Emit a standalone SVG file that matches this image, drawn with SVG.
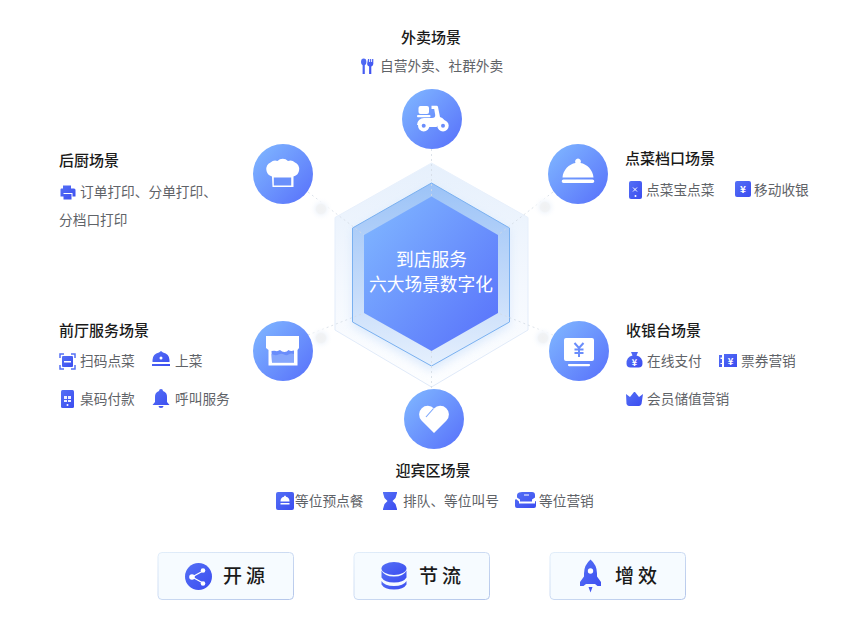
<svg xmlns="http://www.w3.org/2000/svg" width="860" height="628" viewBox="0 0 860 628">
<style>
text{font-family:"Noto Sans CJK SC","Noto Sans",sans-serif}
.t{font-size:15px;font-weight:500;fill:#1a1a1a}
.i{font-size:13.7px;fill:#5f6368}
.b{font-size:19px;font-weight:500;fill:#1a1a1a;letter-spacing:4px}
.c{font-size:17.700px;fill:#fff;text-anchor:middle}
.w{fill:#fff}
.k{fill:url(#ic)}
.btn{fill:#f6fbff;stroke:url(#bs);stroke-width:1}
.conn{stroke:#d3dae3;stroke-width:.8;stroke-dasharray:2 3;fill:none}
</style>
<defs>
<linearGradient id="g" x1="0.1" y1="0.1" x2="0.95" y2="0.9"><stop offset="0" stop-color="#7db2ff"/><stop offset="1" stop-color="#5a75fb"/></linearGradient>
<linearGradient id="ic" x1="0" y1="0" x2="1" y2="1"><stop offset="0" stop-color="#5470f5"/><stop offset="1" stop-color="#3b4cf0"/></linearGradient>
<linearGradient id="bs" x1="0" y1="0" x2="1" y2="1"><stop offset="0" stop-color="#e2eefa"/><stop offset="1" stop-color="#b4c6ea"/></linearGradient>
<linearGradient id="h1" x1="0.5" y1="0" x2="0.5" y2="1"><stop offset="0" stop-color="#e6f0fc"/><stop offset=".55" stop-color="#f4f8fe"/><stop offset="1" stop-color="#fdfeff"/></linearGradient>
<linearGradient id="h1s" x1="0.5" y1="0" x2="0.5" y2="1"><stop offset="0" stop-color="#e9f1fc"/><stop offset="1" stop-color="#dfe9f8"/></linearGradient>
<linearGradient id="h2" x1="0.5" y1="0" x2="0.5" y2="1"><stop offset="0" stop-color="#9cc3f7"/><stop offset=".6" stop-color="#c6dcfa"/><stop offset="1" stop-color="#e6f0fd"/></linearGradient>
<radialGradient id="dot"><stop offset="0" stop-color="#f0f1f2"/><stop offset=".38" stop-color="#f1f3f5"/><stop offset=".5" stop-color="#f6f9fd"/><stop offset="1" stop-color="#fff" stop-opacity="0"/></radialGradient>
<filter id="blur" x="-20%" y="-20%" width="140%" height="140%"><feGaussianBlur stdDeviation="5"/></filter>
</defs>

<g id="hexagon">
<polygon points="431.500,163 528,217.500 528,330 431.500,387 335,330 335,217.500" fill="url(#h1)" stroke="url(#h1s)" stroke-width="1"/>
<polygon points="431.500,186 509.500,231 509.500,326 431.500,371 352.500,326 352.500,231" fill="#cfe2fb" opacity=".7" filter="url(#blur)"/>
<polygon points="431.500,183 509.500,228 509.500,322 431.500,366 352.500,322 352.500,228" fill="url(#h2)" stroke="#79b0f0" stroke-width="1"/>
</g>

<g id="connectors">
<path class="conn" d="M431.500 149V197M431.500 351V389M308 192L364 235M553 192L498 235M308 335L364 313M553 335L498 313"/>
<circle cx="321" cy="209" r="12" fill="url(#dot)"/>
<circle cx="545" cy="207" r="12" fill="url(#dot)"/>
<circle cx="321" cy="338" r="12" fill="url(#dot)"/>
<circle cx="543" cy="338" r="12" fill="url(#dot)"/>
</g>

<g id="center">
<polygon points="431.500,196.500 498,235 498,313 431.500,351 364,313 364,235" fill="url(#g)"/>
<text class="c" x="431.500" y="266">到店服务</text>
<text class="c" x="431" y="291">六大场景数字化</text>
</g>

<g id="node-waimai">
<text class="t" x="431" y="43" text-anchor="middle">外卖场景</text>
<path class="k" d="M361 62a2.700 3.500 0 0 1 5.400 0a2.700 3.500 0 0 1-1.600 3.300V74h-2.200v-8.700a2.700 3.500 0 0 1-1.600-3.300zM368 59h1.200v3h.9v-3h1.100v3h.9v-3h1.200v5a2.500 2.500 0 0 1-2 2.400V74h-2.200v-7.600a2.500 2.500 0 0 1-2-2.400z"/>
<text class="i" x="380" y="71">自营外卖、社群外卖</text>
<circle cx="432" cy="119" r="30" fill="url(#g)"/>
<rect class="w" x="418.500" y="106" width="10.500" height="8" rx="2"/>
<rect class="w" x="417" y="115" width="13.500" height="2.300" rx="1"/>
<path class="w" d="M417 125a7 7 0 0 1 7-7h8q3.500 0 3.200-3l-1-6h-2.700v-3.300h5a1.500 1.500 0 0 1 1.500 1.300l2 10q5 1.500 6.500 8h-8l-2 2h-8l-2-2z"/>
<circle cx="423.700" cy="125.700" r="5.700" class="w"/><circle cx="423.700" cy="125.700" r="2" fill="#6a8dfb"/>
<circle cx="443" cy="125.700" r="5.700" class="w"/><circle cx="443" cy="125.700" r="2" fill="#6a8dfb"/>
</g>

<g id="node-houchu">
<text class="t" x="59" y="166">后厨场景</text>
<path class="k" d="M63 186h8v3h3a1.500 1.500 0 0 1 1.500 1.500V197h-3v-3.500h-9V197h-3v-6.500A1.500 1.500 0 0 1 61 189h2zM63.500 194.500h8V200h-8z" transform="translate(0,-.500)"/>
<text class="i" x="80" y="197">订单打印、分单打印、</text>
<text class="i" x="59" y="225">分档口打印</text>
<circle cx="283" cy="174" r="30" fill="url(#g)"/>
<path class="w" d="M272 177v-.500a7.500 7.500 0 0 1-1.500-14a7 7 0 0 1 7-1.500a7.500 7.500 0 0 1 10.500 0a7 7 0 0 1 7 1.500a7.500 7.500 0 0 1-1.500 14v10.500h-21z"/>
<rect x="273.800" y="177.500" width="17.400" height="8" fill="#6a90fb"/>
</g>

<g id="node-diancai">
<text class="t" x="625" y="164">点菜档口场景</text>
<rect class="k" x="629" y="181" width="13" height="18" rx="2"/>
<path d="M633 187.500l4 4m0-4l-4 4" stroke="#fff" stroke-width="1" fill="none"/><circle class="w" cx="635.500" cy="196" r="1"/>
<text class="i" x="646" y="195">点菜宝点菜</text>
<rect class="k" x="735" y="181" width="16" height="16" rx="2"/>
<text x="743" y="193" font-size="10" font-weight="700" fill="#fff" text-anchor="middle">¥</text>
<text class="i" x="754" y="195">移动收银</text>
<circle cx="578" cy="174" r="30" fill="url(#g)"/>
<path class="w" d="M578 158.500a3 3 0 0 1 2.500 4.500C587 164 593 170 593.500 177.500h-31C563 170 569 164 575.500 163a3 3 0 0 1 2.500-4.500zM563.500 179.500h29a1.800 1.800 0 0 1 0 3.600h-29a1.800 1.800 0 0 1 0-3.600z"/>
</g>

<g id="node-qianting">
<text class="t" x="59" y="336">前厅服务场景</text>
<path d="M60 358v-4h4M71 354h4v4M75 365v4h-4M64 369h-4v-4" fill="none" stroke="#5470f5" stroke-width="1.500"/>
<rect class="k" x="62" y="356" width="11" height="11" rx="1"/><rect class="w" x="64" y="361" width="7" height="1.500"/>
<text class="i" x="80" y="366">扫码点菜</text>
<path class="k" d="M161 351l2 1.500a8 8 0 0 1 6.500 7.500v2h-17v-2a8 8 0 0 1 6.500-7.500zM152 364h18v2h-18z"/><circle class="w" cx="161" cy="358" r="1.500"/>
<text class="i" x="175" y="366">上菜</text>
<rect class="k" x="61" y="390" width="13" height="18" rx="1.500"/>
<path d="M64 396h3v3h-3zM68 396h3v3h-3zM64 400h3v2h-3zM68 400h3v2h-3z" fill="#fff" opacity=".9"/><circle class="w" cx="67.500" cy="405" r="1"/>
<text class="i" x="80" y="404">桌码付款</text>
<path class="k" d="M161 389a2 2 0 0 1 2 2a6 6 0 0 1 4 6v5l2.500 3h-17l2.500-3v-5a6 6 0 0 1 4-6a2 2 0 0 1 2-2zM158.500 406h5a2.500 2 0 0 1-5 0z"/>
<text class="i" x="175" y="404">呼叫服务</text>
<circle cx="283" cy="351" r="30" fill="url(#g)"/>
<path class="w" d="M266 336h33v12l-1.500 2v15.500h-29V350l-2.500-2z"/>
<path d="M271.500 351q3-.5 4.500 0t4-1q2 2 4.500 2t4-2q2 1.500 5.500.500v12h-22z" fill="#6a8dfb"/>
<path d="M271.500 354q4 2 7 .500t5.500 0t4.500 0t5.500-.500v8.500h-22z" fill="#86a6fc"/>
</g>

<g id="node-shouyin">
<text class="t" x="626" y="336">收银台场景</text>
<path class="k" d="M631 352h7l-1.500 3.500a8 8 0 0 1 6 8a4 4 0 0 1-4 4h-8a4 4 0 0 1-4-4a8 8 0 0 1 6-8z"/>
<text x="634.500" y="366" font-size="9" font-weight="700" fill="#fff" text-anchor="middle">¥</text>
<text class="i" x="647" y="366">在线支付</text>
<path class="k" d="M719 355h3v2.500h-1.500v1.500h1.500v4h-1.500v1h1.500v3h-3zM724 354h13v13h-13z"/>
<text x="730.500" y="365" font-size="9.500" font-weight="700" fill="#fff" text-anchor="middle">¥</text>
<text class="i" x="741" y="366">票券营销</text>
<path class="k" d="M626 394l4 3l4-5l1 0l4 5l4-3l-1.500 10q-1 2-2.500 2h-10q-1.500 0-2.500-2z"/>
<text class="i" x="647" y="404">会员储值营销</text>
<circle cx="579" cy="351" r="30" fill="url(#g)"/>
<path class="w" d="M566 338h26a2 2 0 0 1 2 2v19a2 2 0 0 1-2 2h-26a2 2 0 0 1-2-2v-19a2 2 0 0 1 2-2zM569 364h20a1 1 0 0 1 0 2.200h-20a1 1 0 0 1 0-2.200z"/>
<path d="M574.500 343l4.500 5l4.500-5M579 348v9M574.500 349.500h9M574.500 353h9" stroke="#6a8dfb" stroke-width="2" fill="none"/>
</g>

<g id="node-yingbin">
<text class="t" x="433" y="476" text-anchor="middle">迎宾区场景</text>
<rect class="k" x="276" y="492" width="18" height="18" rx="2"/>
<path class="w" d="M285 495.500a1.200 1.200 0 0 1 1 1.200a4.500 4.500 0 0 1 3.500 4.300v.5h-9V501a4.500 4.500 0 0 1 3.500-4.300a1.200 1.200 0 0 1 1-1.200zM280.500 503h9v1.500h-9z"/>
<text class="i" x="295" y="506">等位预点餐</text>
<path class="k" d="M383 492h14v1l-1.500 5l-3 3l3 3l1.500 5v1h-14v-1l1.500-5l3-3l-3-3l-1.500-5z"/>
<text class="i" x="403" y="506">排队、等位叫号</text>
<path class="k" d="M522 492h10a3 3 0 0 1 3 3v2.500l-3 2v2h-12v-2l-3-2v-2.500a3 3 0 0 1 2-2.500zM516 499l3 2.500v2h16v-2l1-.5v-2l0 .5v6.500a2 2 0 0 1-2 2h-17a2 2 0 0 1-2-2v-6z"/>
<path d="M524 495h5" stroke="#fff" stroke-width="1"/>
<text class="i" x="539" y="506">等位营销</text>
<circle cx="434" cy="419" r="30" fill="url(#g)"/>
<path class="w" d="M434 433L421.500 420.500A8.600 8.600 0 0 1 434 408.500A8.600 8.600 0 0 1 446.500 420.500Z"/>
<path d="M426 417l7.500-8.500" stroke="#78a4fd" stroke-width="1.100" fill="none"/>
</g>

<g id="btn-kaiyuan">
<rect class="btn" x="158" y="552.500" width="135.500" height="47" rx="4"/>
<circle class="k" cx="198.500" cy="576.500" r="13.500"/>
<path d="M192 577l11-6M192 577l11 6" stroke="#fff" stroke-width="1.300"/><circle class="w" cx="192" cy="577" r="2.800"/><circle class="w" cx="203" cy="570.500" r="2.300"/><circle class="w" cx="203" cy="583.500" r="2.300"/>
<text class="b" x="223" y="583">开源</text>
</g>
<g id="btn-jieliu">
<rect class="btn" x="354" y="552.500" width="135.500" height="47" rx="4"/>
<ellipse class="k" cx="394" cy="568.500" rx="12.500" ry="6.500"/>
<path class="k" d="M381.500 570.500q3 6 12.500 6t12.500-6v7q-3 5-12.500 5t-12.500-5z"/>
<path class="k" d="M381.500 581q3 5 12.500 5t12.500-5v3.500q-3 5-12.500 5t-12.500-5z"/>
<text class="b" x="419" y="583">节流</text>
</g>
<g id="btn-zengxiao">
<rect class="btn" x="550" y="552.500" width="135.500" height="47" rx="4"/>
<path class="k" d="M590.500 559.500q6.500 5.500 6.500 14v3l4 5.500v4h-3.500l-2.500-2h-9l-2.500 2h-3.500v-4l4-5.500v-3q0-8.500 6.500-14zM588.500 587h4l-2 5.500z"/>
<circle class="w" cx="590.500" cy="571" r="2.700"/>
<text class="b" x="615" y="583">增效</text>
</g>
</svg>
